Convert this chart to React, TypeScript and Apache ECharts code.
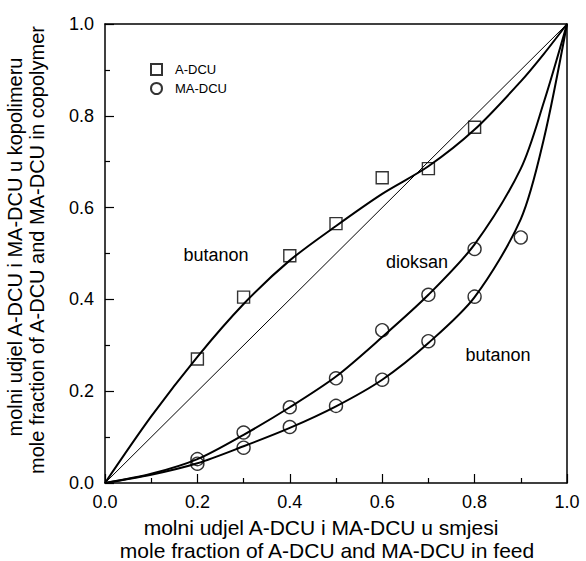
import React, { useEffect, useRef } from 'react';
import * as echarts from 'echarts';

// Fitted composition curves
const curveX = [0, 0.1, 0.2, 0.3, 0.4, 0.5, 0.6, 0.7, 0.8, 0.9, 0.95, 1.0];
const aDcuButanonCurve = [0, 0.145, 0.275, 0.39, 0.485, 0.56, 0.63, 0.69, 0.77, 0.875, 0.935, 1.0];
const maDcuDioksanCurve = [0, 0.02, 0.052, 0.105, 0.165, 0.232, 0.318, 0.41, 0.52, 0.685, 0.83, 1.0];
const maDcuButanonCurve = [0, 0.018, 0.043, 0.08, 0.12, 0.167, 0.225, 0.305, 0.405, 0.575, 0.75, 1.0];

// Reference line (diagonal)
const diagonalX = [0, 1];
const diagonalY = [0, 1];

// Experimental points
const aDcuX = [0.2, 0.3, 0.4, 0.5, 0.6, 0.7, 0.8];
const aDcuY = [0.27, 0.405, 0.495, 0.565, 0.665, 0.685, 0.775];
const maDioksanX = [0.2, 0.3, 0.4, 0.5, 0.6, 0.7, 0.8];
const maDioksanY = [0.052, 0.11, 0.165, 0.228, 0.333, 0.41, 0.51];
const maButanonX = [0.2, 0.3, 0.4, 0.5, 0.6, 0.7, 0.8, 0.9];
const maButanonY = [0.042, 0.077, 0.122, 0.168, 0.225, 0.309, 0.406, 0.535];

const legendNames = ['A-DCU', 'MA-DCU'];
const xTitle = ['molni udjel A-DCU i MA-DCU u smjesi', 'mole fraction of A-DCU and MA-DCU in feed'];
const yTitle = ['molni udjel A-DCU i MA-DCU u kopolimeru', 'mole fraction of A-DCU and MA-DCU in copolymer'];
const annotations = ['butanon', 'dioksan', 'butanon'];

const FONT = '"Liberation Sans", Arial, Helvetica, sans-serif';

const zip = (xs: number[], ys: number[]) => xs.map((x, i) => [x, ys[i]]);

export default function App() {
  const ref = useRef<HTMLDivElement>(null);
  useEffect(() => {
    if (!ref.current) return;
    const chart = echarts.init(ref.current, null, { renderer: 'svg' });
    const axisLine = { show: true, onZero: false, lineStyle: { color: '#000', width: 1.5 } };
    const curveStyle = { color: '#000', width: 2 };
    const hollow = { color: 'rgba(0,0,0,0)', borderColor: '#000', borderWidth: 1.4 };
    chart.setOption({
      animation: false,
      backgroundColor: '#fff',
      grid: { left: 105, top: 24, width: 462, height: 459 },
      legend: {
        data: legendNames,
        orient: 'vertical',
        left: 145,
        top: 58,
        itemWidth: 11,
        itemHeight: 11,
        itemGap: 6,
        textStyle: { fontFamily: FONT, fontSize: 13, color: '#000', padding: [0, 0, 0, 8] },
      },
      xAxis: [
        {
          type: 'value', min: 0, max: 1, interval: 0.2,
          axisLine,
          axisTick: { show: true, inside: true, length: 9, lineStyle: { color: '#000', width: 1.2 } },
          minorTick: { show: true, splitNumber: 2, length: 5, lineStyle: { color: '#000', width: 1.2 } },
          splitLine: { show: false },
          axisLabel: { formatter: (v: number) => v.toFixed(1), fontFamily: FONT, fontSize: 18, color: '#000', margin: 10 },
        },
        {
          type: 'value', min: 0, max: 1, position: 'top',
          axisLine, axisTick: { show: false }, axisLabel: { show: false }, splitLine: { show: false },
        },
      ],
      yAxis: [
        {
          type: 'value', min: 0, max: 1, interval: 0.2,
          axisLine,
          axisTick: { show: true, inside: true, length: 9, lineStyle: { color: '#000', width: 1.2 } },
          minorTick: { show: true, splitNumber: 2, length: 5, lineStyle: { color: '#000', width: 1.2 } },
          splitLine: { show: false },
          axisLabel: { formatter: (v: number) => v.toFixed(1), fontFamily: FONT, fontSize: 18, color: '#000', margin: 11 },
        },
        {
          type: 'value', min: 0, max: 1, position: 'right',
          axisLine, axisTick: { show: false }, axisLabel: { show: false }, splitLine: { show: false },
        },
      ],
      series: [
        { type: 'line', data: zip(diagonalX, diagonalY), symbol: 'none', lineStyle: { color: '#000', width: 1 }, silent: true },
        { type: 'line', data: zip(curveX, aDcuButanonCurve), symbol: 'none', smooth: 0.3, lineStyle: curveStyle },
        { type: 'line', data: zip(curveX, maDcuDioksanCurve), symbol: 'none', smooth: 0.3, lineStyle: curveStyle },
        { type: 'line', data: zip(curveX, maDcuButanonCurve), symbol: 'none', smooth: 0.3, lineStyle: curveStyle },
        {
          name: 'A-DCU', type: 'scatter', symbol: 'rect', symbolSize: 12, z: 5,
          itemStyle: hollow, data: zip(aDcuX, aDcuY),
        },
        {
          name: 'MA-DCU', type: 'scatter', symbol: 'circle', symbolSize: 13, z: 5,
          itemStyle: hollow, data: [...zip(maDioksanX, maDioksanY), ...zip(maButanonX, maButanonY)],
        },
      ],
      graphic: [
        { type: 'text', x: 216, y: 255, style: { text: annotations[0], font: `18px ${FONT}`, fill: '#000', align: 'center', verticalAlign: 'middle' } },
        { type: 'text', x: 417, y: 262, style: { text: annotations[1], font: `18px ${FONT}`, fill: '#000', align: 'center', verticalAlign: 'middle' } },
        { type: 'text', x: 498, y: 355, style: { text: annotations[2], font: `18px ${FONT}`, fill: '#000', align: 'center', verticalAlign: 'middle' } },
        { type: 'text', x: 321, y: 527, style: { text: xTitle[0], font: `21px ${FONT}`, fill: '#000', align: 'center', verticalAlign: 'middle' } },
        { type: 'text', x: 327, y: 550, style: { text: xTitle[1], font: `21px ${FONT}`, fill: '#000', align: 'center', verticalAlign: 'middle' } },
        { type: 'text', x: 15, y: 247, rotation: Math.PI / 2, style: { text: yTitle[0], font: `20px ${FONT}`, fill: '#000', align: 'center', verticalAlign: 'middle' } },
        { type: 'text', x: 37, y: 250, rotation: Math.PI / 2, style: { text: yTitle[1], font: `20px ${FONT}`, fill: '#000', align: 'center', verticalAlign: 'middle' } },
      ],
    });
    return () => chart.dispose();
  }, []);
  return <div ref={ref} style={{ width: 586, height: 561, position: 'absolute', left: 0, top: 0 }} />;
}
